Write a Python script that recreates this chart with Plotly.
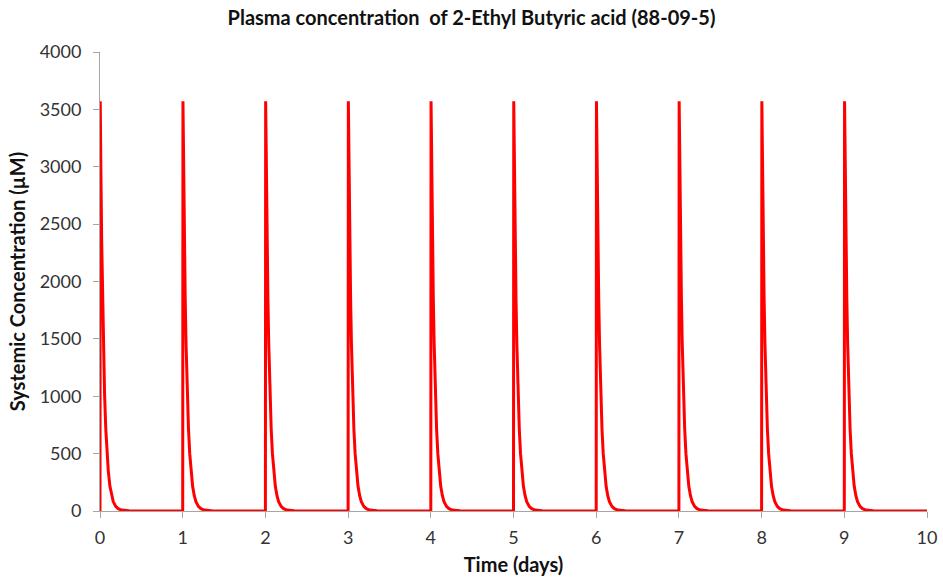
import plotly.graph_objects as go

# Dosing times (days) – one dose per day
dose_days = [0, 1, 2, 3, 4, 5, 6, 7, 8, 9]

# Concentration profile after each dose: time since dose (days) and µM
profile_t = [0.0, 0.003, 0.01, 0.02, 0.03, 0.04, 0.055, 0.07, 0.085, 0.10,
             0.12, 0.14, 0.16, 0.19, 0.22, 0.26, 0.35, 0.5, 0.75, 0.999]
profile_c = [0, 3570, 3020, 2370, 1870, 1470, 1025, 715, 500, 350,
             215, 133, 82, 40, 20, 8, 2, 0, 0, 0]

time = []
conc = []
for d in dose_days:
    for t, c in zip(profile_t, profile_c):
        time.append(d + t)
        conc.append(c)
time.append(10.0)
conc.append(0)

font_family = "Lato, 'Open Sans', sans-serif"
axis_grey = "#A6A6A6"
tick_text = "#333333"
title_text = "#111111"

fig = go.Figure(
    go.Scatter(
        x=time, y=conc, mode="lines",
        line=dict(color="#FF0000", width=3),
        hoverinfo="skip",
    )
)

fig.update_layout(
    width=943, height=579,
    paper_bgcolor="white", plot_bgcolor="white",
    margin=dict(l=100, r=16, t=52, b=68),
    showlegend=False,
    font=dict(family=font_family, color=tick_text, size=18),
    title=dict(
        text="<b>Plasma concentration&nbsp; of 2-Ethyl Butyric acid (88-09-5)</b>",
        x=0.5, xanchor="center", xref="container",
        y=1 - 18 / 579, yanchor="middle", yref="container",
        font=dict(size=20, family=font_family, color=title_text),
    ),
)

fig.update_xaxes(
    range=[0, 10], tick0=0, dtick=1, automargin=False,
    showgrid=False, zeroline=False,
    showline=True, linecolor=axis_grey, linewidth=1,
    ticks="outside", ticklen=6, tickcolor=axis_grey, tickwidth=1,
    ticklabelstandoff=4,
    tickfont=dict(size=18, family=font_family, color=tick_text),
    title=dict(text="<b>Time (days)</b>", standoff=11,
               font=dict(size=20, family=font_family, color=title_text)),
)
fig.update_yaxes(
    range=[0, 4000], tick0=0, dtick=500, automargin=False,
    showgrid=False, zeroline=False,
    showline=True, linecolor=axis_grey, linewidth=1,
    ticks="outside", ticklen=6, tickcolor=axis_grey, tickwidth=1,
    ticklabelstandoff=8,
    tickfont=dict(size=18, family=font_family, color=tick_text),
    title=dict(text="<b>Systemic Concentration (µM)</b>", standoff=8,
               font=dict(size=20, family=font_family, color=title_text)),
)

fig.write_html("out.html")
